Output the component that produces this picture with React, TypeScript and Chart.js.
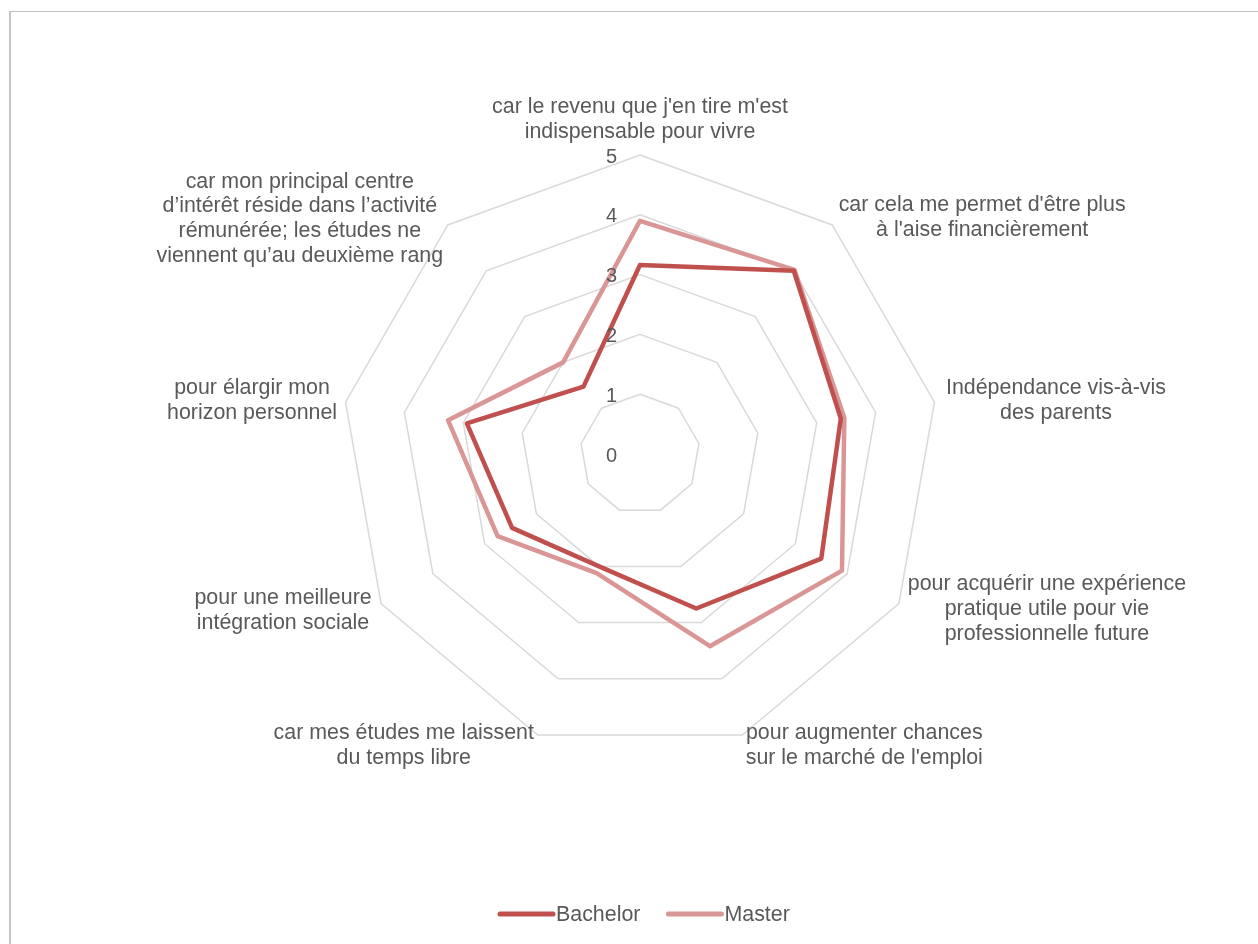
import React, { useEffect, useRef } from "react";
import { Chart, registerables } from "chart.js";

Chart.register(...registerables);

const categories: string[][] = [
  ["car le revenu que j'en tire m'est", "indispensable pour vivre"],
  ["car cela me permet d'être plus", "à l'aise financièrement"],
  ["Indépendance vis-à-vis", "des parents"],
  ["pour acquérir une expérience", "pratique utile pour vie", "professionnelle future"],
  ["pour augmenter chances", "sur le marché de l'emploi"],
  ["car mes études me laissent", "du temps libre"],
  ["pour une meilleure", "intégration sociale"],
  ["pour élargir mon", "horizon personnel"],
  [
    "car mon principal centre",
    "d’intérêt réside dans l’activité",
    "rémunérée; les études ne",
    "viennent qu’au deuxième rang",
  ],
];

const bachelor: number[] = [3.16, 4.0, 3.41, 3.5, 2.75, 2.0, 2.47, 2.94, 1.47];
const master: number[] = [3.9, 4.02, 3.47, 3.9, 3.42, 2.12, 2.75, 3.26, 2.0];
const tickValues: number[] = [0, 1, 2, 3, 4, 5];
const seriesNames: string[] = ["Bachelor", "Master"];

// label offsets (dx, dy of the label block centre from the outer vertex)
const labelOffsets: [number, number][] = [
  [0, -35.5],
  [150, -7.5],
  [121.5, -1.6],
  [148, 5.5],
  [122, 11],
  [-134, 11],
  [-98, 7],
  [-93.5, -1.6],
  [-148, -6],
];

const FONT = '"Liberation Sans", Arial, sans-serif';
const TEXT = "#595959";
const LINE_H = 24.8;

const customDraw = {
  id: "customDraw",
  afterDraw(chart: any) {
    const ctx = chart.ctx;
    const scale = chart.scales.r;
    ctx.save();
    ctx.fillStyle = TEXT;
    // tick labels
    ctx.font = `20px ${FONT}`;
    ctx.textAlign = "right";
    ctx.textBaseline = "middle";
    tickValues.forEach((v) => {
      const d = scale.getDistanceFromCenterForValue(v);
      ctx.fillText(String(v), scale.xCenter - 23, scale.yCenter - d + 2);
    });
    // point labels
    ctx.font = `21.4px ${FONT}`;
    ctx.textAlign = "center";
    categories.forEach((lines, i) => {
      const p = scale.getPointPosition(i, scale.drawingArea);
      const cx = p.x + labelOffsets[i][0];
      const cy = p.y + labelOffsets[i][1];
      const top = cy - ((lines.length - 1) * LINE_H) / 2;
      lines.forEach((ln, j) => ctx.fillText(ln, cx, top + j * LINE_H));
    });
    // legend
    const legendY = 914;
    const items = chart.data.datasets.map((ds: any) => ({ label: ds.label, color: ds.borderColor }));
    let x = 498;
    items.forEach((it: any) => {
      ctx.strokeStyle = it.color;
      ctx.lineWidth = 5;
      ctx.lineCap = "round";
      ctx.beginPath();
      ctx.moveTo(x + 2, legendY);
      ctx.lineTo(x + 55, legendY);
      ctx.stroke();
      ctx.textAlign = "left";
      ctx.fillStyle = TEXT;
      ctx.fillText(it.label, x + 58, legendY + 1);
      x += 58 + ctx.measureText(it.label).width + 26;
    });
    ctx.restore();
  },
};

export default function App() {
  const ref = useRef<HTMLCanvasElement | null>(null);
  useEffect(() => {
    if (!ref.current) return;
    const chart = new Chart(ref.current, {
      type: "radar",
      data: {
        labels: categories,
        datasets: [
          {
            label: seriesNames[0],
            data: bachelor,
            borderColor: "#C0504D",
            borderWidth: 4.5,
            fill: false,
            pointRadius: 0,
            pointHoverRadius: 0,
            borderJoinStyle: "round",
          },
          {
            label: seriesNames[1],
            data: master,
            borderColor: "#D99694",
            borderWidth: 4.5,
            fill: false,
            pointRadius: 0,
            pointHoverRadius: 0,
            borderJoinStyle: "round",
          },
        ],
      },
      options: {
        animation: false,
        responsive: false,
        devicePixelRatio: 1,
        layout: { padding: { top: 155, bottom: 191, left: 341, right: 319 } },
        plugins: { legend: { display: false }, tooltip: { enabled: false } },
        scales: {
          r: {
            min: 0,
            max: 5,
            ticks: { display: false, stepSize: 1 },
            angleLines: { display: false },
            grid: { color: "#d9d9d9", lineWidth: 1.5 },
            pointLabels: { display: false },
          },
        },
      },
      plugins: [customDraw],
    });
    return () => chart.destroy();
  }, []);
  return (
    <div>
      <div
        style={{
          position: "absolute",
          left: 9,
          top: 11,
          width: 1300,
          height: 1000,
          borderLeft: "2px solid #c4c4c4",
          borderTop: "1px solid #c0c0c0",
        }}
      />
      <canvas
        ref={ref}
        width={1258}
        height={944}
        style={{ position: "absolute", left: 0, top: 0, width: 1258, height: 944 }}
      />
    </div>
  );
}
